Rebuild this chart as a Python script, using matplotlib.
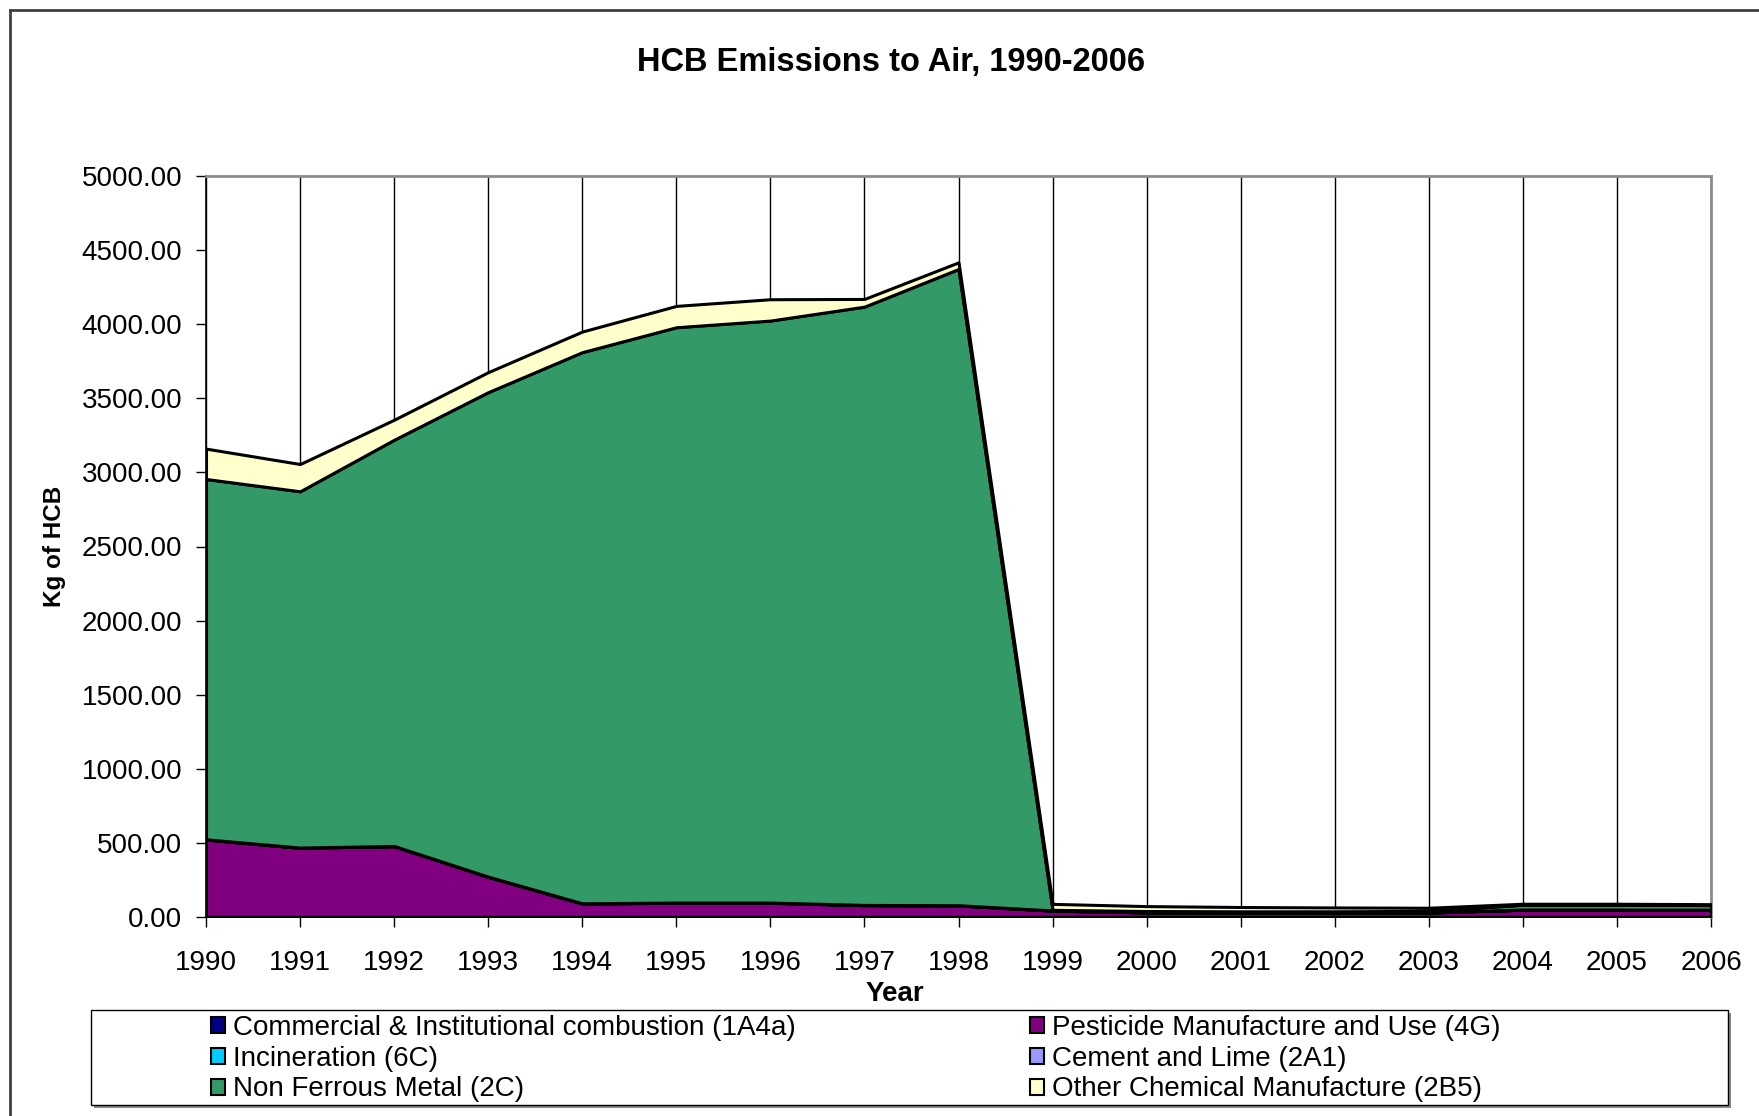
import matplotlib
matplotlib.use("Agg")
import matplotlib.pyplot as plt
from matplotlib.patches import Rectangle, Patch
from matplotlib.lines import Line2D
from matplotlib.ticker import FormatStrFormatter, MultipleLocator

plt.rcParams["font.family"] = ["Liberation Sans", "DejaVu Sans"]

years = list(range(1990, 2007))

# kg of HCB per source sector, stacked in this order
commercial = [1.0, 1.0, 1.0, 1.0, 1.0, 1.0, 1.0, 1.0, 1.0, 1.0, 1.0, 1.0, 1.0, 1.0, 1.0, 1.0, 1.0]
pesticide = [522, 466, 477, 270, 90, 95, 95, 79, 77, 42, 30, 28, 28, 29, 48, 48, 47]
incineration = [0.5, 0.5, 0.5, 0.5, 0.5, 0.5, 0.5, 0.5, 0.5, 0.5, 0.5, 0.5, 0.5, 0.5, 0.5, 0.5, 0.5]
cement = [1.0, 1.0, 1.0, 1.0, 1.0, 1.0, 1.0, 1.0, 1.0, 1.0, 1.0, 1.0, 1.0, 1.0, 1.0, 1.0, 1.0]
non_ferrous = [2431, 2404, 2741, 3269, 3719, 3882, 3927, 4037, 4293, 4, 8, 8, 8, 10, 32, 32, 31]
other_chem = [205, 184, 135, 135, 139, 144, 144, 52, 45, 40, 33, 29, 26, 21, 7, 7, 6]

labels = [
    "Commercial & Institutional combustion (1A4a)",
    "Pesticide Manufacture and Use (4G)",
    "Incineration (6C)",
    "Cement and Lime (2A1)",
    "Non Ferrous Metal (2C)",
    "Other Chemical Manufacture (2B5)",
]
colors = ["#000080", "#800080", "#00CCFF", "#9999FF", "#339966", "#FFFFCC"]

W, H = 1759, 1116
fig = plt.figure(figsize=(W / 100, H / 100), dpi=100)

# chart frame: only the top and left edges fall inside the canvas
fig.add_artist(Line2D([10 / W, 10 / W], [0, 1 - 10 / H], transform=fig.transFigure,
                      color="#404040", lw=2))
fig.add_artist(Line2D([10 / W, 1], [1 - 10 / H, 1 - 10 / H], transform=fig.transFigure,
                      color="#404040", lw=2))

left, right, top, bottom = 206, 1711, 176, 917
ax = fig.add_axes([left / W, 1 - bottom / H, (right - left) / W, (bottom - top) / H])

series = [commercial, pesticide, incineration, cement, non_ferrous, other_chem]
ax.stackplot(years, *series, colors=colors, edgecolor="black", linewidth=2.2, zorder=3)

ax.set_xlim(1990, 2006)
ax.set_ylim(0, 5000)
ax.xaxis.set_major_locator(MultipleLocator(1))
ax.yaxis.set_major_locator(MultipleLocator(500))
ax.yaxis.set_major_formatter(FormatStrFormatter("%.2f"))
ax.grid(axis="x", color="black", lw=1, zorder=1)
ax.tick_params(axis="both", direction="out", length=7, width=1, labelsize=20)
ax.tick_params(axis="y", pad=10)
ax.tick_params(axis="x", pad=16.5)

for side in ("top", "right"):
    ax.spines[side].set_color("#8c8c8c")
    ax.spines[side].set_linewidth(2)
for side in ("left", "bottom"):
    ax.spines[side].set_color("black")
    ax.spines[side].set_linewidth(1.2)
ax.spines["bottom"].set_zorder(4)

fig.text(891 / W, 1 - 62.5 / H, "HCB Emissions to Air, 1990-2006",
         ha="center", va="center", fontsize=23.5, fontweight="bold")
fig.text(895 / W, 1 - 994 / H, "Year", ha="center", va="center",
         fontsize=20, fontweight="bold")
fig.text(54 / W, 1 - 546 / H, "Kg of HCB", ha="center", va="center",
         rotation=90, fontsize=17.5, fontweight="bold")

# legend box with drop shadow
lx0, lx1, ly0, ly1 = 91, 1728, 1010, 1105
fig.add_artist(Rectangle(((lx0 + 3) / W, 1 - (ly1 + 3) / H), (lx1 - lx0) / W, (ly1 - ly0) / H,
                         transform=fig.transFigure, facecolor="#8c8c8c", edgecolor="none"))
fig.add_artist(Rectangle((lx0 / W, 1 - ly1 / H), (lx1 - lx0) / W, (ly1 - ly0) / H,
                         transform=fig.transFigure, facecolor="white", edgecolor="black", lw=1))

handles = [Patch(facecolor=c, edgecolor="black", lw=1.5) for c in colors]
col_order = [[0, 2, 4], [1, 3, 5]]
for col, x0 in zip(col_order, (211, 1030)):
    leg = fig.legend([handles[i] for i in col], [labels[i] for i in col],
                     loc="upper left", bbox_to_anchor=(x0 / W, 1 - 1015 / H),
                     frameon=False, fontsize=20, handlelength=0.5, handleheight=0.5,
                     handletextpad=0.3, labelspacing=0.17, borderpad=0, borderaxespad=0)

fig.savefig("out.png", dpi=100)
